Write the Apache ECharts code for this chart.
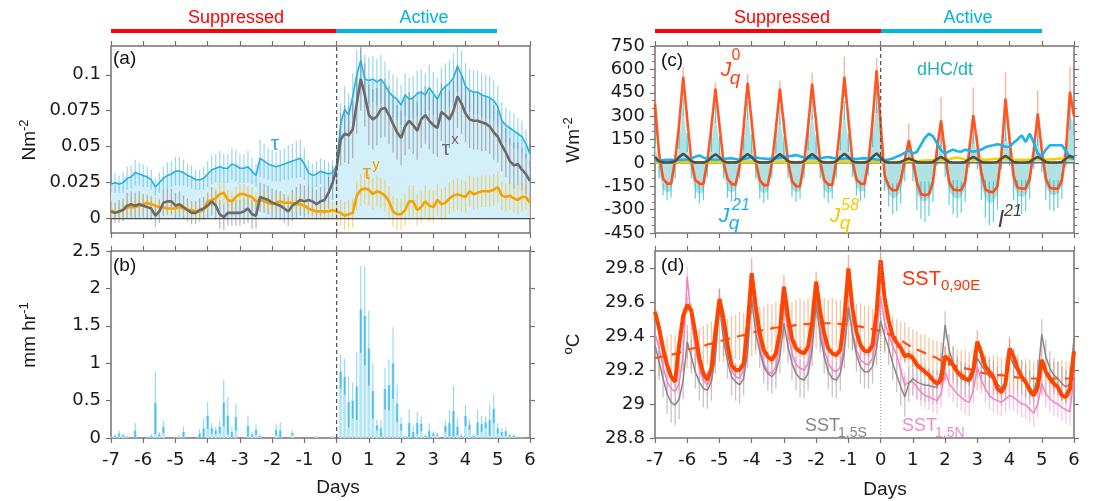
<!DOCTYPE html>
<html><head><meta charset="utf-8">
<script src="https://cdn.jsdelivr.net/npm/echarts@6/dist/echarts.min.js"></script>
<style>html,body{margin:0;padding:0;background:#fff}#c{width:1094px;height:501px}</style>
</head><body><div id="c"></div>
<script>
// ---------- data (3-hourly samples from day -7 to day 6) ----------
const N = 105;
const DAY_TICKS = [-7,-6,-5,-4,-3,-2,-1,0,1,2,3,4,5,6];
const TICKS_A = [0, 0.025, 0.05, 0.075, 0.1];
const TICKS_D = [28.8, 29, 29.2, 29.4, 29.6, 29.8];

// (a) wind stress
const TAU = [0.024,0.025,0.024,0.025,0.028,0.029,0.032,0.031,0.030,0.029,
 0.027,0.022,0.025,0.028,0.030,0.031,0.033,0.033,0.032,0.030,
 0.029,0.027,0.027,0.028,0.031,0.034,0.035,0.036,0.035,0.035,
 0.038,0.037,0.035,0.035,0.036,0.033,0.030,0.042,0.040,0.038,
 0.037,0.036,0.037,0.038,0.039,0.040,0.041,0.042,0.038,0.032,
 0.030,0.031,0.033,0.032,0.031,0.032,0.037,0.066,0.076,0.072,
 0.085,0.100,0.110,0.097,0.096,0.097,0.095,0.097,0.093,0.088,
 0.085,0.083,0.079,0.086,0.083,0.084,0.087,0.088,0.086,0.091,
 0.087,0.083,0.089,0.092,0.094,0.098,0.106,0.100,0.092,0.089,
 0.088,0.088,0.086,0.085,0.084,0.082,0.078,0.068,0.065,0.063,
 0.061,0.059,0.057,0.052,0.045];
const TAU_ERR = [0.006,0.007,0.006,0.007,0.008,0.008,0.009,0.008,0.008,0.007,
 0.007,0.006,0.007,0.008,0.009,0.009,0.010,0.010,0.009,0.008,
 0.008,0.007,0.007,0.008,0.009,0.010,0.010,0.011,0.010,0.010,
 0.011,0.011,0.010,0.010,0.011,0.009,0.008,0.013,0.012,0.011,
 0.011,0.010,0.011,0.011,0.012,0.012,0.013,0.013,0.011,0.009,
 0.008,0.009,0.009,0.009,0.008,0.009,0.010,0.014,0.016,0.015,
 0.016,0.017,0.018,0.017,0.016,0.016,0.016,0.017,0.016,0.015,
 0.015,0.015,0.014,0.015,0.015,0.015,0.016,0.016,0.015,0.016,
 0.015,0.015,0.016,0.016,0.016,0.017,0.018,0.017,0.016,0.015,
 0.015,0.015,0.015,0.015,0.015,0.014,0.014,0.013,0.012,0.012,
 0.012,0.011,0.011,0.010,0.010];
const TAUX = [0.005,0.004,0.005,0.006,0.009,0.010,0.009,0.010,0.009,0.008,
 0.007,0.002,0.005,0.011,0.012,0.012,0.009,0.010,0.008,0.006,
 0.004,0.004,0.006,0.007,0.009,0.012,0.009,0.003,0.001,0.004,
 0.004,0.004,0.004,0.005,0.007,0.003,0.002,0.015,0.014,0.013,
 0.011,0.010,0.009,0.007,0.005,0.009,0.011,0.013,0.012,0.013,
 0.012,0.010,0.012,0.013,0.018,0.025,0.035,0.055,0.059,0.058,
 0.062,0.080,0.097,0.086,0.072,0.069,0.071,0.076,0.077,0.072,
 0.066,0.060,0.056,0.064,0.068,0.065,0.061,0.069,0.072,0.068,
 0.065,0.063,0.074,0.072,0.069,0.075,0.085,0.080,0.073,0.069,
 0.068,0.068,0.067,0.066,0.064,0.060,0.057,0.051,0.046,0.040,
 0.037,0.038,0.034,0.031,0.026];
const TAUX_ERR = [0.007,0.007,0.008,0.008,0.009,0.009,0.009,0.009,0.008,0.008,
 0.008,0.008,0.008,0.009,0.009,0.009,0.009,0.009,0.008,0.008,
 0.008,0.008,0.008,0.008,0.009,0.010,0.010,0.010,0.009,0.009,
 0.009,0.009,0.009,0.009,0.010,0.010,0.009,0.010,0.010,0.010,
 0.010,0.010,0.010,0.010,0.010,0.011,0.011,0.011,0.011,0.010,
 0.010,0.010,0.010,0.010,0.011,0.012,0.014,0.018,0.020,0.020,
 0.020,0.021,0.022,0.022,0.021,0.021,0.020,0.020,0.020,0.020,
 0.020,0.019,0.019,0.020,0.020,0.020,0.020,0.020,0.020,0.020,
 0.020,0.020,0.020,0.020,0.020,0.021,0.022,0.021,0.020,0.020,
 0.020,0.020,0.020,0.019,0.019,0.019,0.018,0.018,0.017,0.016,
 0.016,0.015,0.015,0.014,0.014];
const TAUY = [0.006,0.004,0.005,0.006,0.008,0.008,0.008,0.009,0.010,0.011,
 0.010,0.009,0.008,0.008,0.007,0.007,0.007,0.008,0.007,0.006,
 0.006,0.005,0.005,0.006,0.012,0.013,0.014,0.017,0.018,0.013,
 0.012,0.015,0.017,0.017,0.016,0.015,0.012,0.013,0.012,0.011,
 0.010,0.011,0.012,0.011,0.011,0.011,0.010,0.010,0.009,0.007,
 0.006,0.005,0.005,0.005,0.005,0.006,0.005,0.004,0.002,0.003,
 0.004,0.016,0.020,0.021,0.020,0.017,0.019,0.018,0.016,0.012,
 0.005,0.003,0.003,0.006,0.012,0.012,0.006,0.008,0.012,0.009,
 0.008,0.013,0.010,0.011,0.014,0.016,0.017,0.016,0.015,0.019,
 0.017,0.018,0.019,0.019,0.019,0.020,0.022,0.016,0.015,0.016,
 0.014,0.013,0.015,0.015,0.011];
const TAUY_ERR = [0.005,0.005,0.005,0.005,0.005,0.006,0.006,0.006,0.006,0.006,
 0.006,0.006,0.006,0.005,0.005,0.005,0.005,0.005,0.005,0.005,
 0.005,0.005,0.005,0.005,0.006,0.007,0.007,0.008,0.008,0.007,
 0.007,0.007,0.007,0.007,0.007,0.007,0.006,0.006,0.006,0.006,
 0.006,0.006,0.006,0.006,0.006,0.006,0.006,0.006,0.006,0.006,
 0.006,0.006,0.006,0.006,0.006,0.006,0.007,0.009,0.010,0.010,
 0.010,0.010,0.011,0.011,0.011,0.011,0.011,0.011,0.011,0.011,
 0.011,0.011,0.011,0.011,0.011,0.011,0.011,0.011,0.011,0.011,
 0.011,0.011,0.011,0.011,0.011,0.011,0.011,0.011,0.011,0.011,
 0.011,0.011,0.011,0.011,0.011,0.011,0.011,0.010,0.010,0.010,
 0.010,0.010,0.010,0.009,0.009];

// (b) precipitation
const PR = [0.01,0.03,0.06,0.04,0.02,0,0.1,0,0,0.01,
 0.03,0.47,0.05,0.15,0,0,0.01,0.02,0.08,0,
 0,0,0.06,0.13,0.3,0.13,0.1,0.15,0.47,0.3,
 0.08,0.28,0,0,0.16,0.05,0.11,0.03,0,0,
 0,0.11,0.1,0,0,0.07,0,0,0,0,
 0,0.02,0,0,0,0.02,0,0.89,0.82,0.48,
 0.5,0.69,1.72,1.63,1.2,0.63,0.17,0.13,0.66,0.71,
 1.0,0.46,0.19,0.02,0.2,0.08,0.2,0.19,0.03,0.09,
 0.06,0.05,0,0.16,0.2,0.36,0.15,0.03,0.3,0.18,
 0.03,0.21,0.19,0.21,0.24,0.39,0.13,0.08,0.09,0.04,
 0.03,0.01,0.01,0,0];
const PR_ERR = [0.01,0.02,0.04,0.02,0.01,0,0.1,0,0,0.01,
 0.02,0.42,0.03,0.08,0,0,0.01,0.01,0.07,0,
 0,0,0.06,0.14,0.18,0.07,0.05,0.09,0.31,0.25,
 0.07,0.18,0,0,0.14,0.03,0.07,0.02,0,0,
 0,0.07,0.11,0,0,0.03,0,0,0,0,
 0,0.01,0,0,0,0.01,0,0.23,0.24,0.34,
 0.24,0.45,0.58,0.66,0.5,0.37,0.07,0.11,0.28,0.34,
 0.48,0.25,0.09,0.01,0.19,0.09,0.15,0.1,0.02,0.11,
 0.03,0.02,0,0.08,0.18,0.34,0.11,0.02,0.14,0.07,
 0.02,0.17,0.11,0.08,0.21,0.19,0.07,0.05,0.06,0.02,
 0.02,0.01,0.01,0,0];

// (c) heat fluxes (W m-2)
const JQ0 = [380,60,-100,-133,-133,20,250,552,280,15,
 -110,-133,-135,15,231,477,241,5,-100,-135,
 -140,-20,230,513,260,10,-110,-143,-143,0,
 215,477,240,10,-115,-150,-150,5,230,509,
 255,10,-110,-140,-140,10,250,552,280,15,
 -105,-133,-135,15,270,594,250,-80,-150,-176,
 -176,-110,20,145,20,-120,-200,-208,-200,-120,
 90,273,60,-120,-170,-176,-176,-120,80,306,
 120,-60,-170,-186,-186,-150,60,413,150,-80,
 -160,-165,-165,-100,80,316,80,-100,-160,-165,
 -165,-110,80,456,300];
const JQ0_ERR = [50,30,20,20,20,30,50,60,50,30,
 20,20,20,30,50,40,50,30,20,20,
 20,30,50,60,50,30,20,20,20,30,
 50,50,50,30,20,20,20,30,60,70,
 50,30,20,20,20,30,60,130,60,30,
 20,20,20,30,60,80,60,30,25,25,
 25,30,50,107,50,30,25,25,25,30,
 60,150,60,30,25,25,25,30,60,180,
 60,30,25,25,25,30,60,170,60,30,
 25,25,25,30,60,150,60,30,25,25,
 25,30,60,160,80];
const DHC = [150,-60,-170,-190,-180,-60,150,359,130,-60,
 -180,-200,-190,-50,130,316,110,-60,-175,-190,
 -180,-60,140,337,120,-60,-180,-195,-185,-60,
 120,305,110,-60,-170,-190,-180,-60,140,337,
 120,-60,-175,-195,-180,-60,140,337,130,-50,
 -160,-185,-175,-40,160,400,200,-120,-200,-230,
 -220,-180,-60,60,-60,-200,-240,-250,-230,-170,
 40,170,-30,-180,-220,-230,-220,-170,30,200,
 20,-150,-230,-260,-250,-200,20,220,40,-150,
 -210,-220,-210,-150,20,180,0,-150,-200,-210,
 -200,-150,30,300,250];
const DHC_ERR = [50,40,40,50,40,40,60,60,60,40,
 50,60,50,40,60,60,60,40,50,60,
 50,40,60,60,60,40,50,60,50,40,
 60,60,60,40,50,60,50,40,60,60,
 60,40,50,60,50,40,60,60,60,40,
 50,60,50,40,60,80,60,60,80,100,
 90,80,60,60,60,100,120,130,110,80,
 60,70,60,90,110,120,100,80,60,80,
 60,90,120,140,130,100,60,80,60,90,
 100,110,100,80,60,70,60,90,100,100,
 90,80,60,90,80];
const JQ21 = [15,15,18,20,20,18,18,20,22,25,
 40,48,35,25,22,20,22,25,28,30,
 25,22,25,30,38,35,30,28,25,28,
 30,32,38,42,45,50,42,35,30,32,
 30,28,35,38,32,28,25,28,30,28,
 25,28,30,28,25,22,20,18,22,28,
 40,50,65,81,60,70,115,160,188,170,
 125,81,60,75,85,75,72,85,78,71,
 78,85,100,108,113,120,115,103,103,130,
 150,177,134,188,130,60,45,85,113,113,
 113,113,75,35,25];
const JQ58 = [5,5,4,4,4,5,6,7,6,5,
 4,4,4,5,6,7,6,5,4,4,
 4,5,6,7,6,5,4,4,5,5,
 6,7,6,5,5,5,5,5,6,7,
 6,5,5,5,5,6,7,8,7,6,
 5,5,5,6,7,8,6,4,4,5,
 6,8,10,12,12,12,14,15,16,16,
 18,20,22,24,30,34,28,22,20,20,
 22,22,20,22,24,26,28,28,26,22,
 20,20,20,22,24,26,24,22,22,24,
 26,28,28,30,28];
const I21 = [38,10,3,2,3,10,38,58,38,10,
 3,2,3,10,36,55,36,10,3,2,
 3,10,37,57,37,10,3,2,3,10,
 36,56,36,10,3,2,3,10,37,57,
 37,10,3,2,3,10,38,58,38,10,
 3,2,3,10,39,60,35,8,2,2,
 2,6,18,28,18,6,2,2,2,6,
 24,38,24,6,2,2,2,6,24,38,
 24,6,2,2,2,6,28,45,28,6,
 2,2,2,6,24,38,24,6,2,2,
 2,6,28,45,35];

// (d) SST (deg C)
const SST0 = [29.543,29.447,29.327,29.229,29.161,29.131,29.35,29.52,29.582,29.55,
 29.42,29.27,29.18,29.141,29.21,29.425,29.618,29.504,29.347,29.229,
 29.20,29.20,29.239,29.465,29.769,29.573,29.416,29.318,29.278,29.259,
 29.298,29.427,29.69,29.514,29.386,29.327,29.308,29.298,29.337,29.484,
 29.72,29.543,29.416,29.327,29.298,29.288,29.318,29.504,29.798,29.563,
 29.425,29.347,29.312,29.308,29.347,29.543,29.847,29.62,29.49,29.40,
 29.36,29.33,29.28,29.29,29.27,29.23,29.21,29.19,29.17,29.14,
 29.12,29.14,29.28,29.26,29.23,29.19,29.17,29.15,29.14,29.20,
 29.367,29.30,29.22,29.19,29.16,29.09,29.07,29.12,29.327,29.28,
 29.21,29.16,29.13,29.08,29.05,29.10,29.26,29.19,29.15,29.12,
 29.10,29.05,29.04,29.09,29.31];
const SST0_ERR = [.04,.03,.03,.03,.03,.03,.03,.04,.05,.04,
 .03,.03,.03,.03,.03,.04,.06,.04,.03,.03,
 .03,.03,.03,.05,.09,.05,.03,.03,.03,.03,
 .03,.04,.07,.04,.03,.03,.03,.03,.03,.04,
 .06,.04,.03,.03,.03,.03,.03,.05,.08,.05,
 .03,.03,.03,.03,.03,.05,.05,.05,.04,.03,
 .03,.03,.03,.03,.03,.03,.03,.03,.03,.03,
 .03,.03,.06,.04,.03,.03,.03,.03,.03,.04,
 .07,.04,.03,.03,.03,.03,.03,.04,.07,.04,
 .03,.03,.03,.03,.03,.03,.06,.04,.03,.03,
 .03,.03,.03,.03,.05];
const SST0_MEAN = [29.27,29.275,29.28,29.285,29.29,29.295,29.30,29.31,29.32,
 29.325,29.33,29.335,29.34,29.35,29.355,29.36,29.37,
 29.375,29.38,29.39,29.395,29.40,29.405,29.41,29.42,
 29.425,29.43,29.435,29.44,29.445,29.45,29.45,29.455,
 29.46,29.46,29.465,29.47,29.47,29.47,29.475,29.475,
 29.475,29.475,29.475,29.475,29.475,29.47,29.47,29.47,
 29.465,29.46,29.455,29.45,29.445,29.44,29.435,29.43,
 29.42,29.41,29.40,29.39,29.375,29.36,29.345,29.33,
 29.32,29.31,29.30,29.29,29.28,29.27,29.255,29.24,
 29.235,29.23,29.22,29.215,29.21,29.205,29.20,29.19,
 29.185,29.18,29.18,29.175,29.17,29.17,29.165,29.16,
 29.16,29.155,29.155,29.155,29.15,29.15,29.15,29.15,
 29.15,29.15,29.15,29.15,29.15,29.15,29.15,29.15];
const SST0_MEAN_ERR = [.10,.11,.10,.11,.12,.11,.12,.12,.11,.12,
 .12,.11,.12,.12,.13,.12,.12,.13,.12,.13,
 .13,.14,.13,.14,.14,.13,.14,.14,.15,.14,
 .15,.14,.15,.15,.14,.15,.15,.14,.15,.14,
 .15,.14,.15,.14,.15,.14,.14,.15,.14,.14,
 .13,.14,.13,.13,.12,.12,.12,.11,.11,.12,
 .11,.11,.12,.11,.11,.11,.10,.11,.10,.10,
 .10,.11,.10,.10,.11,.10,.10,.11,.10,.11,
 .11,.10,.11,.10,.11,.11,.10,.11,.11,.10,
 .11,.10,.11,.11,.10,.11,.10,.10,.11,.10,
 .10,.11,.10,.10,.10];
const SST_S = [29.347,29.25,29.15,29.06,29.01,28.994,29.03,29.14,29.367,29.28,
 29.19,29.13,29.09,29.082,29.13,29.28,29.58,29.38,29.25,29.16,
 29.13,29.112,29.15,29.31,29.62,29.42,29.31,29.22,29.18,29.161,
 29.19,29.28,29.475,29.34,29.24,29.18,29.15,29.141,29.18,29.32,
 29.59,29.40,29.28,29.19,29.15,29.141,29.18,29.31,29.57,29.41,
 29.29,29.22,29.19,29.19,29.22,29.33,29.49,29.40,29.33,29.24,
 29.17,29.10,29.043,29.12,29.15,29.13,29.12,29.11,29.11,29.10,
 29.10,29.20,29.465,29.32,29.24,29.18,29.15,29.14,29.13,29.17,
 29.27,29.23,29.19,29.16,29.15,29.12,29.09,29.13,29.29,29.23,
 29.19,29.16,29.13,29.10,29.07,29.16,29.41,29.28,29.21,29.17,
 29.15,29.12,29.10,29.12,29.39];
const SST_S_ERR = [.10,.11,.11,.12,.12,.12,.12,.11,.10,.10,
 .10,.11,.11,.11,.11,.10,.09,.10,.10,.11,
 .11,.11,.10,.10,.09,.10,.10,.10,.10,.10,
 .10,.10,.09,.10,.10,.10,.11,.11,.10,.10,
 .09,.10,.10,.10,.11,.11,.10,.10,.09,.10,
 .10,.10,.10,.10,.10,.10,.09,.10,.10,.10,
 .10,.11,.12,.11,.10,.10,.10,.10,.10,.10,
 .10,.10,.08,.09,.10,.10,.10,.10,.10,.10,
 .09,.10,.10,.10,.10,.10,.10,.10,.09,.10,
 .10,.10,.10,.10,.10,.10,.09,.10,.10,.10,
 .10,.10,.10,.10,.09];
const SST_N = [29.416,29.33,29.22,29.13,29.09,29.073,29.12,29.30,29.749,29.50,
 29.33,29.21,29.14,29.112,29.15,29.30,29.62,29.44,29.30,29.20,
 29.16,29.151,29.20,29.38,29.72,29.50,29.35,29.24,29.19,29.18,
 29.22,29.34,29.60,29.42,29.30,29.23,29.21,29.20,29.24,29.38,
 29.64,29.45,29.32,29.24,29.20,29.19,29.22,29.35,29.58,29.43,
 29.32,29.26,29.24,29.23,29.27,29.40,29.63,29.48,29.41,29.34,
 29.29,29.20,29.11,29.13,29.13,29.10,29.07,29.05,29.043,29.03,
 29.02,29.06,29.19,29.12,29.09,29.06,29.04,29.02,29.01,29.08,
 29.22,29.14,29.09,29.05,29.03,29.02,29.01,29.03,29.05,29.04,
 29.02,29.00,28.995,28.97,28.945,29.00,29.12,29.06,29.03,29.01,
 29.00,28.98,28.965,28.955,29.17];
const SST_N_ERR = [.07,.07,.07,.08,.08,.08,.08,.07,.06,.06,
 .07,.07,.07,.07,.07,.07,.06,.07,.07,.07,
 .07,.07,.07,.07,.06,.07,.07,.07,.07,.07,
 .07,.07,.06,.07,.07,.07,.07,.07,.07,.07,
 .06,.07,.07,.07,.07,.07,.07,.07,.06,.07,
 .07,.07,.07,.07,.07,.07,.06,.07,.07,.07,
 .07,.07,.08,.08,.08,.08,.08,.08,.08,.08,
 .08,.08,.07,.08,.08,.08,.08,.08,.08,.08,
 .07,.08,.08,.08,.08,.08,.08,.08,.08,.08,
 .08,.08,.08,.08,.08,.08,.07,.08,.08,.08,
 .08,.08,.08,.08,.07];

// ---------- chart ----------
const FONT = 'Liberation Sans';
const TICKFONT = 'DejaVu Sans';
const FRAME = '#7b6f70';
const xs = Array.from({length: N}, (_, i) => -7 + i * 0.125);
const pair = a => a.map((v, i) => [xs[i], v]);
const errData = (a, e) => a.map((v, i) => [xs[i], v - e[i], v + e[i]]);

function errSeries(g, a, e, color, w, z) {
  return {type: 'custom', xAxisIndex: 2*g, yAxisIndex: 2*g, clip: true, silent: true, z: z || 2,
    encode: {x: 0, y: [1, 2]}, data: errData(a, e),
    renderItem: (p, api) => {
      const x = api.value(0);
      const a1 = api.coord([x, api.value(1)]), a2 = api.coord([x, api.value(2)]);
      return {type: 'line', shape: {x1: a1[0], y1: a1[1], x2: a2[0], y2: a2[1]},
        style: {stroke: color, lineWidth: w}};
    }};
}
function lineSeries(g, a, color, w, z, extra) {
  return Object.assign({type: 'line', xAxisIndex: 2*g, yAxisIndex: 2*g, data: pair(a),
    showSymbol: false, symbol: 'none', silent: true, z: z || 3,
    lineStyle: {color: color, width: w}}, extra || {});
}
function vline(g, lo, hi, color, type, w) {
  return {type: 'line', xAxisIndex: 2*g, yAxisIndex: 2*g, data: [[0, lo], [0, hi]],
    symbol: 'none', silent: true, z: 6, lineStyle: {color: color, type: type, width: w}};
}
function hline(g, v, color, w) {
  return {type: 'line', xAxisIndex: 2*g, yAxisIndex: 2*g, data: [[-7, v], [6, v]],
    symbol: 'none', silent: true, z: 2, lineStyle: {color: color, width: w}};
}

const grids = [
  {left: 111, top: 46, width: 419, height: 187},
  {left: 111, top: 251, width: 419, height: 187},
  {left: 655, top: 46, width: 419, height: 187},
  {left: 655, top: 251, width: 419, height: 187}
].map(g => Object.assign(g, {show: true, borderColor: FRAME, borderWidth: 1.5, backgroundColor: 'transparent'}));

const xAxis = [];
for (let g = 0; g < 4; g++) {
  ['bottom', 'top'].forEach(pos => {
    xAxis.push({type: 'value', gridIndex: g, position: pos, min: -7, max: 6, interval: 1,
      axisLine: {show: false, onZero: false}, splitLine: {show: false},
      axisTick: {show: true, inside: false, length: 5, lineStyle: {color: FRAME, width: 1.2}},
      axisLabel: {show: pos === 'bottom' && (g === 1 || g === 3), margin: 13, fontSize: 18,
        color: '#1a1a1a', fontFamily: TICKFONT,
        formatter: v => DAY_TICKS.indexOf(v) >= 0 ? String(v) : ''}});
  });
}
const yDefs = [
  {min: -0.01, max: 0.12, custom: TICKS_A},
  {min: 0, max: 2.5, interval: 0.5},
  {min: -450, max: 750, interval: 150, minor: true},
  {min: 28.8, max: 29.9, custom: TICKS_D}
];
const yAxis = [];
yDefs.forEach((d, g) => {
  ['left', 'right'].forEach(pos => {
    const ax = {type: 'value', gridIndex: g, position: pos, min: d.min, max: d.max,
      axisLine: {show: false, onZero: false}, splitLine: {show: false},
      axisTick: {show: true, inside: false, length: 5, lineStyle: {color: FRAME, width: 1.2}},
      axisLabel: {show: pos === 'left', margin: 10, fontSize: 18, color: '#1a1a1a', fontFamily: TICKFONT}};
    if (d.interval) ax.interval = d.interval;
    if (d.custom) { ax.axisTick.customValues = d.custom; ax.axisLabel.customValues = d.custom; }
    if (d.minor) ax.minorTick = {show: true, splitNumber: 3, length: 3, lineStyle: {color: FRAME, width: 1}};
    yAxis.push(ax);
  });
});

const series = [
  // (a)
  lineSeries(0, TAU, 'rgba(0,0,0,0)', 0, 1, {areaStyle: {color: '#d3eff9', opacity: 1}}),
  errSeries(0, TAU, TAU_ERR, 'rgba(70,180,225,0.55)', 1.2),
  errSeries(0, TAUX, TAUX_ERR, 'rgba(110,110,120,0.5)', 1.2),
  errSeries(0, TAUY, TAUY_ERR, 'rgba(245,185,40,0.6)', 1.2),
  hline(0, 0, '#4a4a4a', 1.4),
  lineSeries(0, TAU, '#27b0e0', 1.6, 4),
  lineSeries(0, TAUY, '#f5a300', 2.6, 4),
  lineSeries(0, TAUX, '#6e6969', 2.6, 4),
  vline(0, -0.01, 0.12, '#555', [4, 3], 1.3),
  // (b)
  {type: 'bar', xAxisIndex: 2, yAxisIndex: 2, data: pair(PR), barWidth: 3, silent: true,
    itemStyle: {color: '#b3e5f7'}, z: 2},
  {type: 'custom', xAxisIndex: 2, yAxisIndex: 2, clip: true, silent: true, z: 3,
    encode: {x: 0, y: 1}, data: PR.map((v, i) => [xs[i], v, PR_ERR[i]]),
    renderItem: (p, api) => {
      const x = api.value(0), m = api.value(1), e = api.value(2);
      const a = api.coord([x, Math.max(0, m - e)]), b = api.coord([x, m]), c = api.coord([x, m + e]);
      return {type: 'group', children: [
        {type: 'line', shape: {x1: a[0], y1: a[1], x2: b[0], y2: b[1]}, style: {stroke: '#52bde6', lineWidth: 1.6}},
        {type: 'line', shape: {x1: b[0], y1: b[1], x2: c[0], y2: c[1]}, style: {stroke: '#86d3f1', lineWidth: 1}}
      ]};
    }},
  vline(1, 0, 2.5, '#555', [4, 3], 1.3),
  // (c)
  lineSeries(2, DHC, 'rgba(0,0,0,0)', 0, 1, {areaStyle: {color: '#a9dfe0', opacity: 0.9}}),
  errSeries(2, DHC, DHC_ERR, 'rgba(40,190,200,0.75)', 1.2),
  errSeries(2, JQ0, JQ0_ERR, 'rgba(245,130,100,0.6)', 1.4),
  hline(2, 0, '#555', 1.4),
  lineSeries(2, JQ0, '#ff4a12', 2.6, 4, {lineStyle: {color: 'rgba(255,70,15,0.9)', width: 2.6}}),
  lineSeries(2, JQ58, '#f5d000', 2.6, 4),
  lineSeries(2, JQ21, '#1cb2ec', 2.6, 4),
  lineSeries(2, I21, '#4d4d4d', 2.6, 4),
  vline(2, -450, 750, '#555', [4, 3], 1.3),
  // (d)
  errSeries(3, SST0_MEAN, SST0_MEAN_ERR, 'rgba(248,165,110,0.65)', 1.3),
  errSeries(3, SST_S, SST_S_ERR, 'rgba(160,155,155,0.6)', 1.3),
  errSeries(3, SST_N, SST_N_ERR, 'rgba(245,160,205,0.6)', 1.3),
  errSeries(3, SST0, SST0_ERR, 'rgba(245,120,80,0.6)', 1.3),
  lineSeries(3, SST_N, '#ee82c2', 1.5, 4),
  lineSeries(3, SST_S, '#8a8585', 1.5, 4),
  lineSeries(3, SST0_MEAN, '#ff5212', 2.2, 4, {lineStyle: {color: '#ff5212', width: 2.2, type: [10, 7]}}),
  lineSeries(3, SST0, '#ff4400', 4, 5),
  vline(3, 28.8, 29.9, '#999', [1, 2], 1)
];

function T(x, y, text, size, color, o) {
  return {type: 'text', x: x, y: y, z: 100, silent: true, rotation: (o && o.rot) || 0,
    style: Object.assign({text: text, fontSize: size, fontFamily: FONT, fill: color,
      align: (o && o.align) || 'center', verticalAlign: 'middle',
      fontStyle: (o && o.italic) ? 'italic' : 'normal'}, (o && o.rich) ? {rich: o.rich} : {})};
}
const richSup = c => ({a: {fontSize: 19, fontFamily: FONT, fill: c, lineHeight: 24},
  s: {fontSize: 13, fontFamily: FONT, fill: c, verticalAlign: 'top'}});

const graphic = [
  // regime bars
  {type: 'line', shape: {x1: 111, y1: 31, x2: 336, y2: 31}, style: {stroke: '#ff0000', lineWidth: 4}},
  {type: 'line', shape: {x1: 336, y1: 31, x2: 497, y2: 31}, style: {stroke: '#00b4dc', lineWidth: 4}},
  {type: 'line', shape: {x1: 655, y1: 31, x2: 881, y2: 31}, style: {stroke: '#ff0000', lineWidth: 4}},
  {type: 'line', shape: {x1: 881, y1: 31, x2: 1042, y2: 31}, style: {stroke: '#00b4dc', lineWidth: 4}},
  T(236, 18, 'Suppressed', 18, '#ff0000'),
  T(424, 18, 'Active', 18, '#00b4dc'),
  T(782, 18, 'Suppressed', 18, '#ff0000'),
  T(968, 18, 'Active', 18, '#00b4dc'),
  // panel tags
  T(113, 59, '(a)', 19, '#111', {align: 'left'}),
  T(113, 266, '(b)', 19, '#111', {align: 'left'}),
  T(661, 61, '(c)', 19, '#111', {align: 'left'}),
  T(661, 266, '(d)', 19, '#111', {align: 'left'}),
  // axis names
  T(30, 140, '{a|Nm}{s|-2}', 19, '#1a1a1a', {rot: Math.PI / 2, rich: richSup('#1a1a1a')}),
  T(30, 335, '{a|mm hr}{s|-1}', 19, '#1a1a1a', {rot: Math.PI / 2, rich: richSup('#1a1a1a')}),
  T(574, 140, '{a|Wm}{s|-2}', 19, '#1a1a1a', {rot: Math.PI / 2, rich: richSup('#1a1a1a')}),
  T(574, 344, '{s|o}{a|C}', 19, '#1a1a1a', {rot: Math.PI / 2, rich: richSup('#1a1a1a')}),
  T(338, 488, 'Days', 19, '#1a1a1a'),
  T(885, 490, 'Days', 19, '#1a1a1a'),
  // panel (a) labels
  T(275, 144, 'τ', 21, '#29abe2'),
  T(446, 149, 'τ', 21, '#6f6a6a'),
  T(455, 140, 'x', 15, '#6f6a6a'),
  T(367, 173, 'τ', 21, '#f5a000'),
  T(376, 165, 'y', 15, '#f5a000'),
  // panel (c) labels
  T(726, 70, 'J', 21, '#ff4010', {italic: true}),
  T(735, 79, 'q', 19, '#ff4010', {italic: true}),
  T(736, 56, '0', 16, '#ff4010'),
  T(945, 70, 'dHC/dt', 18, '#1fb4b4'),
  T(724, 216, 'J', 21, '#1aaee8', {italic: true}),
  T(734, 224, 'q', 19, '#1aaee8', {italic: true}),
  T(741, 206, '21', 16, '#1aaee8', {italic: true}),
  T(835, 216, 'J', 21, '#f5c800', {italic: true}),
  T(845, 224, 'q', 19, '#f5c800', {italic: true}),
  T(850, 206, '58', 16, '#f5c800', {italic: true}),
  T(1001, 221, 'I', 23, '#444', {italic: true}),
  T(1013, 212, '21', 16, '#444', {italic: true}),
  // panel (d) labels
  T(902, 279, 'SST', 20, '#ff3300', {align: 'left'}),
  T(941, 286, '0,90E', 15, '#ff3300', {align: 'left'}),
  T(805, 426, 'SST', 18, '#8c8484', {align: 'left'}),
  T(838, 433, '1.5S', 14, '#8c8484', {align: 'left'}),
  T(902, 426, 'SST', 18, '#f08cc8', {align: 'left'}),
  T(935, 433, '1.5N', 14, '#f08cc8', {align: 'left'})
];

const chart = echarts.init(document.getElementById('c'));
chart.setOption({animation: false, backgroundColor: '#fff', grid: grids, xAxis: xAxis, yAxis: yAxis,
  series: series, graphic: graphic});
</script></body></html>
